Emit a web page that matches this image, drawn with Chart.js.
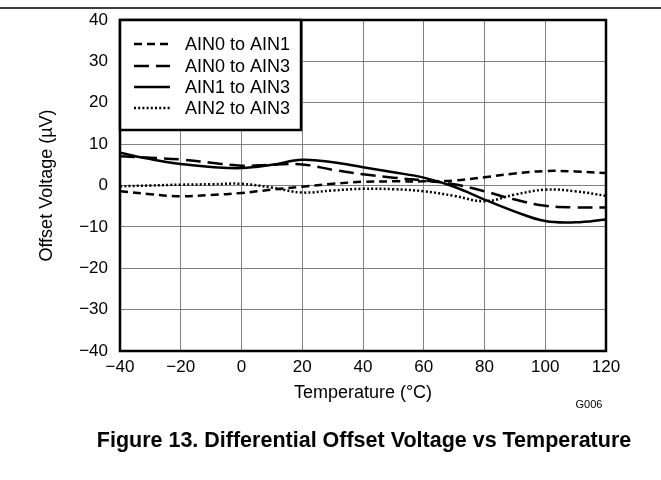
<!DOCTYPE html>
<html>
<head>
<meta charset="utf-8">
<script src="https://cdn.jsdelivr.net/npm/chart.js@4/dist/chart.umd.min.js"></script>
<style>
  html, body { margin: 0; padding: 0; background: #fff; }
  #wrap { width: 661px; height: 480px; position: relative; }
</style>
</head>
<body>
<div id="wrap"><canvas id="chart" width="661" height="480"></canvas></div>
<script>
// temperatures (°C)
const temps = [-40, -30, -20, -10, 0, 10, 20, 30, 40, 50, 60, 70, 80, 90, 100, 110, 120];
// offset voltage (µV)
const ain0to1 = [-1.4, -2.1, -2.6, -2.3, -1.8, -1.0, -0.3, 0.4, 0.9, 1.0, 1.0, 1.2, 2.0, 2.9, 3.5, 3.4, 3.0];
const ain0to3 = [7.1, 6.7, 6.3, 5.5, 4.8, 5.0, 5.1, 3.8, 2.7, 1.9, 1.2, 0.3, -1.4, -3.4, -4.9, -5.3, -5.3];
const ain1to3 = [7.9, 6.4, 5.2, 4.5, 4.2, 5.0, 6.2, 5.6, 4.4, 3.2, 1.9, -0.3, -3.4, -6.3, -8.6, -8.9, -8.2];
const ain2to3 = [-0.2, 0.0, 0.2, 0.3, 0.4, -0.5, -1.7, -1.2, -0.8, -0.9, -1.4, -2.5, -3.8, -2.2, -1.0, -1.4, -2.5];

const seriesNames = ['AIN0 to AIN1', 'AIN0 to AIN3', 'AIN1 to AIN3', 'AIN2 to AIN3'];
const seriesDash = [[8, 5], [15, 7], [], [2, 2.2]];
const seriesValues = [ain0to1, ain0to3, ain1to3, ain2to3];

const FONT = "'Liberation Sans', Arial, sans-serif";
const minus = v => String(v).replace('-', '\u2212');

const makeDatasets = () => seriesNames.map((name, i) => ({
    label: name,
    data: temps.map((t, j) => ({ x: t, y: seriesValues[i][j] })),
    borderColor: '#000',
    borderWidth: 2.5,
    borderDash: seriesDash[i],
    pointRadius: 0,
    tension: 0.4,
    fill: false
}));

// frame, legend box, caption, etc.
const extras = {
    id: 'extras',
    afterDatasetsDraw(chart) {
        const { ctx, chartArea: a } = chart;
        ctx.save();
        ctx.strokeStyle = '#000';
        ctx.lineWidth = 2.5;
        ctx.strokeRect(a.left, a.top, a.right - a.left, a.bottom - a.top);

        // legend box
        const lx = a.left, ly = a.top, lw = 181, lh = 110;
        ctx.fillStyle = '#fff';
        ctx.fillRect(lx, ly, lw, lh);
        ctx.lineWidth = 2.5;
        ctx.strokeRect(lx, ly, lw, lh);
        ctx.font = '18px ' + FONT;
        ctx.textBaseline = 'middle';
        ctx.textAlign = 'left';
        const rows = [44, 66, 87, 108];
        seriesNames.forEach((name, i) => {
            ctx.beginPath();
            ctx.setLineDash(seriesDash[i]);
            ctx.lineWidth = 2.5;
            ctx.moveTo(134, rows[i]);
            ctx.lineTo(170, rows[i]);
            ctx.stroke();
            ctx.setLineDash([]);
            ctx.fillStyle = '#000';
            ctx.fillText(name, 185, rows[i] + 1);
        });

        // top rule
        ctx.lineWidth = 1.5;
        ctx.beginPath();
        ctx.moveTo(0, 8);
        ctx.lineTo(661, 8);
        ctx.stroke();

        ctx.fillStyle = '#000';
        ctx.font = '11px ' + FONT;
        ctx.textAlign = 'center';
        ctx.fillText('G006', 589, 405);

        ctx.font = 'bold 21.5px ' + FONT;
        ctx.fillText('Figure 13. Differential Offset Voltage vs Temperature', 364, 441);
        ctx.restore();
    }
};

const chart = new Chart(document.getElementById('chart'), {
    type: 'line',
    data: { datasets: makeDatasets() },
    options: {
        responsive: false,
        animation: false,
        devicePixelRatio: 1,
        layout: { padding: { left: 0, top: 20, right: 55, bottom: 69 } },
        plugins: {
            legend: { display: false },
            tooltip: { enabled: false }
        },
        scales: {
            x: {
                type: 'linear',
                min: -40,
                max: 120,
                afterFit: s => { s.height = 60; },
                grid: { color: '#808080', lineWidth: 1, drawTicks: false },
                border: { display: false },
                ticks: {
                    stepSize: 20,
                    padding: 6,
                    color: '#000',
                    font: { family: FONT, size: 17 },
                    maxRotation: 0,
                    callback: v => minus(v)
                },
                title: {
                    display: true,
                    text: 'Temperature (°C)',
                    color: '#000',
                    font: { family: FONT, size: 18 },
                    padding: { top: 0, bottom: 7 }
                }
            },
            y: {
                min: -40,
                max: 40,
                afterFit: s => { s.width = 120; s.paddingTop = 0; s.paddingBottom = 0; },
                grid: { color: '#808080', lineWidth: 1, drawTicks: false },
                border: { display: false },
                ticks: {
                    stepSize: 10,
                    padding: 12,
                    color: '#000',
                    font: { family: FONT, size: 17 },
                    callback: v => minus(v)
                },
                title: {
                    display: true,
                    text: 'Offset Voltage (µV)',
                    color: '#000',
                    font: { family: FONT, size: 18 },
                    padding: { top: 36, bottom: 0 }
                }
            }
        }
    },
    plugins: [extras]
});
</script>
</body>
</html>
